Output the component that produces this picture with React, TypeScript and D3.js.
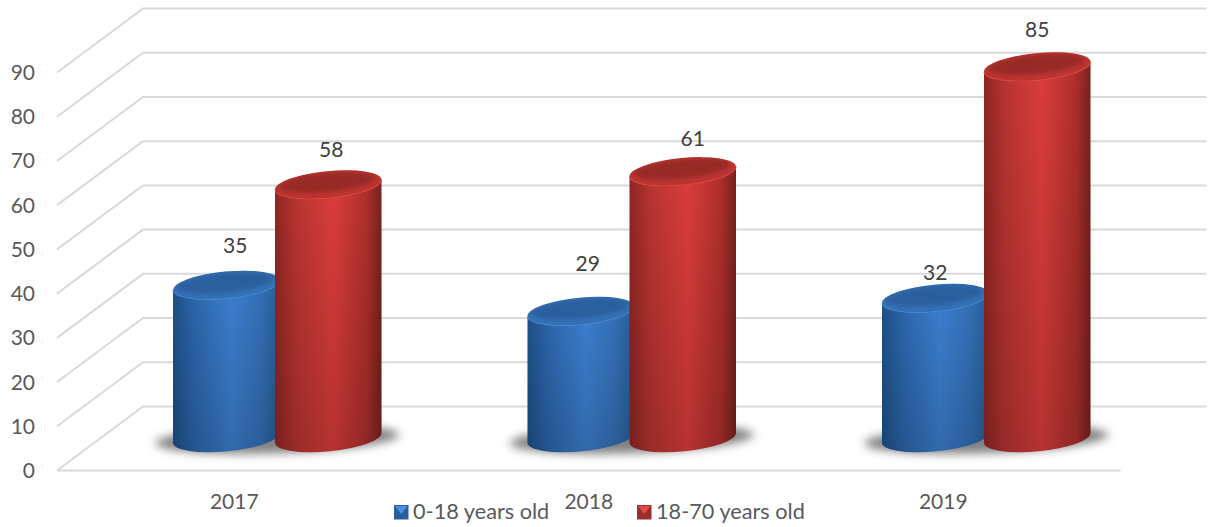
import React from "react";
import * as d3 from "d3";

const years = ["2017", "2018", "2019"];
const childValues = [35, 29, 32];
const adultValues = [58, 61, 85];
const seriesNames = ["0-18 years old", "18-70 years old"];
const axisTicks = [0, 10, 20, 30, 40, 50, 60, 70, 80, 90];

const W = 1209;
const H = 527;
const FONT = "Lato, 'Open Sans', sans-serif";

// Oblique projection of the chart box: depth shifts everything right and up.
const DEPTH_X = 86;
const DEPTH_Y = -64;
const x = d3.scaleBand<string>().domain(years).range([57, 1120.5]);
const y = d3.scaleLinear().domain([0, 90]).range([470.5, 72.5]);

// Cylinder geometry, in pixels.
const BAR_RX = 53.5;
const BAR_RY = 13.5;
const TILT = -5.5;
const BAR_OFFSET = 51;
const tiltRad = (TILT * Math.PI) / 180;
const edgeDx = BAR_RX * Math.cos(tiltRad);
const edgeDy = BAR_RX * Math.sin(tiltRad);
const barBaseY = 443;
const barLift = d3.scaleLinear().domain([0, 90]).range([0, 393]);

// Hand-placed data labels: offset from the cylinder's centre and top edge.
const childLabelNudge = [[9, -45], [7, -53], [0, -31]];
const adultLabelNudge = [[3, -40], [10, -38], [0, -42]];

const gridPath = d3.line<[number, number]>();

function Cylinder({ cx, value, tone }: { cx: number; value: number; tone: "blue" | "red" }) {
  const topEdge = barBaseY - barLift(value);
  const cyTop = topEdge + edgeDy;
  const body =
    `M${cx - edgeDx},${topEdge}` +
    `L${cx - edgeDx},${barBaseY}` +
    `A${BAR_RX},${BAR_RY} ${TILT} 0 0 ${cx + edgeDx},${barBaseY + 2 * edgeDy}` +
    `L${cx + edgeDx},${topEdge + 2 * edgeDy}` +
    `A${BAR_RX},${BAR_RY} ${TILT} 0 1 ${cx - edgeDx},${topEdge}Z`;
  const tf = `rotate(${TILT} ${cx} ${cyTop})`;
  const clipId = `cap-${tone}-${Math.round(cx)}`;
  return (
    <g>
      <path d={body} fill={`url(#body-${tone})`} />
      <path d={body} fill="url(#fade)" />
      <clipPath id={clipId}>
        <ellipse cx={cx} cy={cyTop} rx={BAR_RX} ry={BAR_RY} transform={tf} />
      </clipPath>
      {/* Cap: a lighter bevel ring around a darker, softly blurred centre */}
      <ellipse cx={cx} cy={cyTop} rx={BAR_RX} ry={BAR_RY} transform={tf} fill={tone === "blue" ? "#3470b5" : "#bd3431"} />
      <g clipPath={`url(#${clipId})`}>
        <ellipse
          cx={cx - 1}
          cy={cyTop - 2.5}
          rx={BAR_RX - 5}
          ry={BAR_RY - 4}
          transform={tf}
          fill={tone === "blue" ? "#295f9e" : "#982a27"}
          filter="url(#soft2)"
        />
      </g>
      <path
        d={`M${cx - edgeDx},${topEdge}A${BAR_RX},${BAR_RY} ${TILT} 0 0 ${cx + edgeDx},${topEdge + 2 * edgeDy}`}
        fill="none"
        stroke={tone === "blue" ? "#3d80cc" : "#d83e3b"}
        strokeWidth={1.2}
        opacity={0.7}
      />
    </g>
  );
}

function Swatch({ px, tone }: { px: number; tone: "blue" | "red" }) {
  const top = 505;
  const size = 14.5;
  return (
    <g>
      <rect x={px} y={top} width={size} height={size} fill={tone === "blue" ? "#2a5f9b" : "#97302c"} />
      <path
        d={`M${px + 1},${top + 1}L${px + size - 1},${top + 1}L${px + size / 2},${top + size * 0.62}Z`}
        fill={tone === "blue" ? "#4a8fe0" : "#e14a47"}
      />
    </g>
  );
}

export default function App() {
  return (
    <svg
      width={W}
      height={H}
      viewBox={`0 0 ${W} ${H}`}
      style={{ position: "absolute", left: 0, top: 0, display: "block", background: "#fff" }}
    >
      <defs>
        <linearGradient id="body-blue" x1="0" x2="1" y1="0" y2="0">
          <stop offset="0" stopColor="#1e5088" />
          <stop offset="0.2" stopColor="#2c66ab" />
          <stop offset="0.55" stopColor="#3b7fd0" />
          <stop offset="0.82" stopColor="#3470b6" />
          <stop offset="1" stopColor="#275c97" />
        </linearGradient>
        <linearGradient id="body-red" x1="0" x2="1" y1="0" y2="0">
          <stop offset="0" stopColor="#8e2623" />
          <stop offset="0.2" stopColor="#b93431" />
          <stop offset="0.55" stopColor="#da3d3a" />
          <stop offset="0.86" stopColor="#ae2f2c" />
          <stop offset="1" stopColor="#76211d" />
        </linearGradient>
        <linearGradient id="fade" x1="0" x2="0" y1="0" y2="1">
          <stop offset="0" stopColor="#000" stopOpacity="0" />
          <stop offset="1" stopColor="#000" stopOpacity="0.17" />
        </linearGradient>
        <filter id="soft2" x="-20%" y="-50%" width="140%" height="200%">
          <feGaussianBlur stdDeviation="2" />
        </filter>
        <filter id="soft6" x="-20%" y="-100%" width="140%" height="300%">
          <feGaussianBlur stdDeviation="5" />
        </filter>
      </defs>

      {/* Walls and floor: one polyline per tick, running from the front edge to the back wall */}
      {axisTicks.map((t) => {
        const fy = y(t);
        const pts: [number, number][] = [
          [57, fy],
          [57 + DEPTH_X, fy + DEPTH_Y],
          [1120.5 + DEPTH_X, fy + DEPTH_Y],
        ];
        return <path key={t} d={gridPath(pts) ?? ""} fill="none" stroke="#d9d9d9" strokeWidth={2} />;
      })}
      <line x1={57} x2={1120.5} y1={y(0)} y2={y(0)} stroke="#d9d9d9" strokeWidth={2} />

      {axisTicks.map((t) => (
        <text key={t} x={35} y={y(t) + 7.5} textAnchor="end" fontFamily={FONT} fontSize={21} fill="#595959">
          {t}
        </text>
      ))}

      {years.map((yr, i) => {
        const center = (x(yr) ?? 0) + x.bandwidth() / 2;
        const mid = center + DEPTH_X / 2;
        const cxA = mid - BAR_OFFSET;
        const cxB = mid + BAR_OFFSET;
        return (
          <g key={yr}>
            {/* Soft ground shadow under the pair */}
            <ellipse
              cx={mid}
              cy={439}
              rx={122}
              ry={14}
              fill="#6a6a6a"
              opacity={0.85}
              filter="url(#soft6)"
              transform={`rotate(-2 ${mid} 439)`}
            />
            <Cylinder cx={cxA} value={childValues[i]} tone="blue" />
            <Cylinder cx={cxB} value={adultValues[i]} tone="red" />
            <text
              x={cxA + childLabelNudge[i][0]}
              y={barBaseY - barLift(childValues[i]) + childLabelNudge[i][1] + 7.5}
              textAnchor="middle"
              fontFamily={FONT}
              fontSize={21}
              fill="#404040"
            >
              {childValues[i]}
            </text>
            <text
              x={cxB + adultLabelNudge[i][0]}
              y={barBaseY - barLift(adultValues[i]) + adultLabelNudge[i][1] + 7.5}
              textAnchor="middle"
              fontFamily={FONT}
              fontSize={21}
              fill="#404040"
            >
              {adultValues[i]}
            </text>
            <text x={center} y={509} textAnchor="middle" fontFamily={FONT} fontSize={21} fill="#595959">
              {yr}
            </text>
          </g>
        );
      })}

      <Swatch px={394} tone="blue" />
      <text x={413} y={519} fontFamily={FONT} fontSize={21.7} fill="#595959">
        {seriesNames[0]}
      </text>
      <Swatch px={637} tone="red" />
      <text x={656} y={519} fontFamily={FONT} fontSize={21.7} fill="#595959">
        {seriesNames[1]}
      </text>
    </svg>
  );
}
